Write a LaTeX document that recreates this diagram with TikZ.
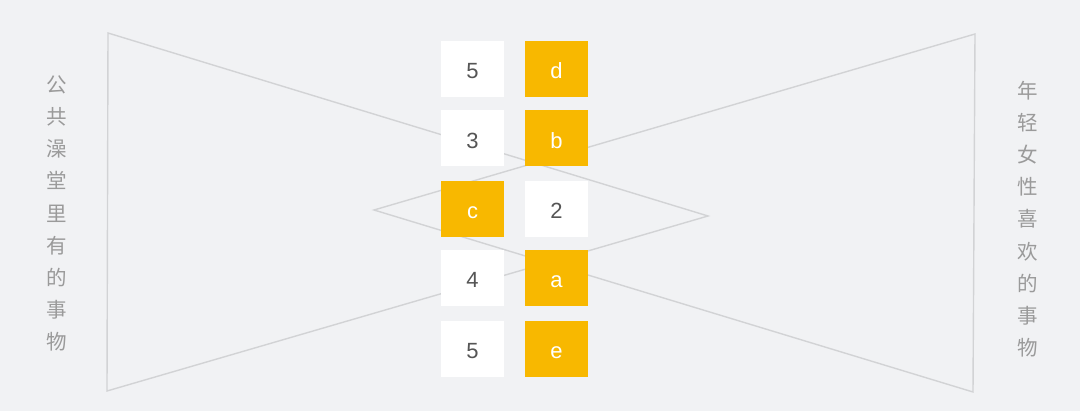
\documentclass[tikz,border=0pt]{standalone}
\usepackage{fontspec}
\setmainfont{Liberation Sans}
\newfontfamily\cjk{Noto Sans CJK SC}
\usepackage{xcolor}
\definecolor{bg}{HTML}{F1F2F4}
\definecolor{gold}{HTML}{F8B800}
\definecolor{edgegray}{HTML}{D2D3D5}
\definecolor{txt}{HTML}{555555}
\definecolor{sidegray}{HTML}{9A9A9A}

\begin{document}
\begin{tikzpicture}[x=1pt,y=-1pt,
  cell/.style={rectangle, minimum width=63pt, minimum height=56pt, inner sep=0pt, text height=22pt, text depth=2pt, font=\fontsize{22}{22}\selectfont},
  wcell/.style={cell, fill=white, text=txt},
  ocell/.style={cell, fill=gold, text=white},
  tri/.style={draw=edgegray, line width=1.4pt, line join=miter},
  side/.style={text=sidegray, font=\cjk\fontsize{20.5}{32.2}\selectfont, align=center, inner sep=0pt}
]
\fill[bg] (0,0) rectangle (1080,411);
% Corners of the two triangles
\coordinate (lt) at (108,33);
\coordinate (lb) at (107,391);
\coordinate (lp) at (708,216);
\coordinate (rt) at (975,34);
\coordinate (rb) at (973,392);
\coordinate (rp) at (374,210);
\draw[tri] (lt) -- (lp) -- (lb) -- cycle;
\draw[tri] (rt) -- (rp) -- (rb) -- cycle;
% Left column
\node[wcell] (l1) at (472.5,69) {5};
\node[wcell] (l2) at (472.5,138.5) {3};
\node[ocell] (l3) at (472.5,208.7) {c};
\node[wcell] (l4) at (472.5,278) {4};
\node[wcell] (l5) at (472.5,348.7) {5};
% Right column
\node[ocell] (r1) at (556.5,69) {d};
\node[ocell] (r2) at (556.5,138.5) {b};
\node[wcell] (r3) at (556.5,208.7) {2};
\node[ocell] (r4) at (556.5,278) {a};
\node[ocell] (r5) at (556.5,348.7) {e};
% Side captions
\node[side] (lcap) at (57,213.5) {公\\共\\澡\\堂\\里\\有\\的\\事\\物};
\node[side] (rcap) at (1028,219) {年\\轻\\女\\性\\喜\\欢\\的\\事\\物};
\end{tikzpicture}
\end{document}
